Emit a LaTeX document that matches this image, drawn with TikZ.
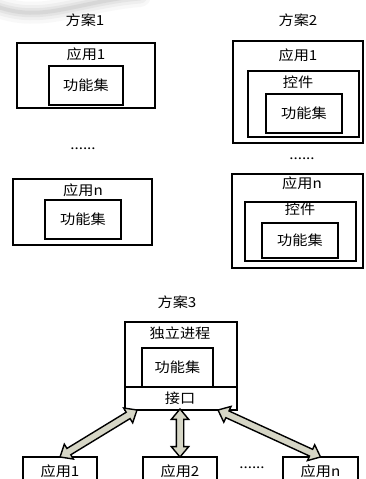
\documentclass[tikz,border=0pt]{standalone}
\usepackage{fontspec}
\setmainfont[FakeStretch=1.1]{Noto Sans CJK SC}
\usetikzlibrary{shapes.arrows,calc}
\definecolor{arrowfill}{RGB}{214,214,198}
\tikzset{
  box/.style={draw=black, line width=2pt, inner sep=0pt, fill=white},
  lbl/.style={inner sep=0pt, font=\fontsize{13.8}{15}\selectfont},
  darrow/.style={double arrow, draw=black, line width=1.4pt, fill=arrowfill,
    inner xsep=0pt, inner ysep=3pt, double arrow head extend=5pt,
    double arrow tip angle=80, double arrow head indent=0pt}
}
\newcommand\dblarrow[2]{%
  \path let \p1=($(#2)-(#1)$), \n1={atan2(\y1,\x1)}, \n2={veclen(\x1,\y1)} in
    node[darrow, minimum height=\n2, rotate=\n1] at ($(#1)!0.5!(#2)$) {};}
\begin{document}
\begin{tikzpicture}[x=1pt,y=-1pt]
\clip (0,0) rectangle (365,479);
\fill[white] (0,0) rectangle (365,479);
% faint gray smudge at top-left
\foreach \w/\o in {22/0.05,15/0.07,9/0.09,4/0.12}{
  \draw[gray, line width=\w pt, opacity=\o, line cap=round]
    (-10,4) .. controls (20,16) and (40,14) .. (70,8) .. controls (95,3) and (115,-2) .. (140,-4);
}
% Scheme 1
\node[lbl] (t1) at (85,20) {方案1};
\node[box, minimum width=138pt, minimum height=65pt] (a1) at (86,75.5) {};
\node[lbl] (a1l) at (86,54) {应用1};
\node[box, minimum width=74pt, minimum height=39pt] (f1) at (86,85.5) {};
\node[lbl] at (f1.center) {功能集};
\node[lbl] (d1) at (83,149) {......};
\node[box, minimum width=139pt, minimum height=66pt] (an) at (82.5,212) {};
\node[lbl] (anl) at (83,190) {应用n};
\node[box, minimum width=76pt, minimum height=39pt] (fn) at (83,219.5) {};
\node[lbl] at (fn.center) {功能集};
% Scheme 2
\node[lbl] (t2) at (298,20) {方案2};
\node[box, minimum width=130pt, minimum height=102pt] (b1) at (298,92) {};
\node[lbl] (b1l) at (298,55) {应用1};
\node[box, minimum width=111pt, minimum height=66pt] (c1) at (303.5,104) {};
\node[lbl] (c1l) at (298,82) {控件};
\node[box, minimum width=76pt, minimum height=39pt] (g1) at (304,113.5) {};
\node[lbl] at (g1.center) {功能集};
\node[lbl] (d2) at (302,159) {......};
\node[box, minimum width=131pt, minimum height=94pt] (bn) at (297.5,221) {};
\node[lbl] (bnl) at (302,183) {应用n};
\node[box, minimum width=111pt, minimum height=59pt] (cn) at (300.5,231.5) {};
\node[lbl] (cnl) at (300,209) {控件};
\node[box, minimum width=76pt, minimum height=35pt] (gn) at (300,240.5) {};
\node[lbl] at (gn.center) {功能集};
% Scheme 3
\node[lbl] (t3) at (177,302) {方案3};
\node[box, minimum width=112pt, minimum height=88pt] (p) at (181,366) {};
\node[lbl] (pl) at (180,333) {独立进程};
\node[box, minimum width=71pt, minimum height=39pt] (pf) at (177.5,367.5) {};
\node[lbl] at (pf.center) {功能集};
\coordinate (sepL) at (125,387);
\coordinate (sepR) at (237,387);
\draw[line width=2pt] (sepL) -- (sepR);
\node[lbl] (ifc) at (180,398) {接口};
\node[box, minimum width=74pt, minimum height=30pt] (u1) at (60,472) {};
\node[lbl] at (60,471) {应用1};
\node[box, minimum width=74pt, minimum height=30pt] (u2) at (180,472) {};
\node[lbl] at (180,471) {应用2};
\node[box, minimum width=75pt, minimum height=30pt] (un) at (320.5,472) {};
\node[lbl] at (320.5,471) {应用n};
\node[lbl] (d3) at (252,468) {......};
% arrows
\coordinate (pA) at ($(p.south west)+(13,-1)$);
\coordinate (pB) at ($(p.south)+(-1,-2)$);
\coordinate (pC) at ($(p.south east)+(-20,-1)$);
\coordinate (uA) at ($(u1.north)+(0,1)$);
\coordinate (uB) at ($(u2.north)+(0,1)$);
\coordinate (uC) at ($(un.north)+(0,1)$);
\dblarrow{pA}{uA}
\dblarrow{pB}{uB}
\dblarrow{pC}{uC}
\end{tikzpicture}
\end{document}
